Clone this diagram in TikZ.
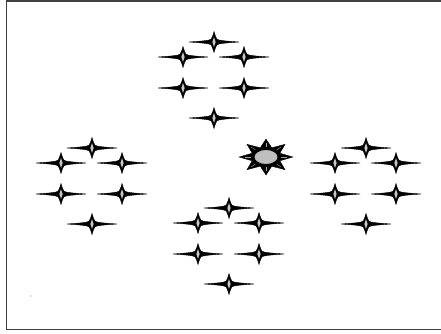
\documentclass[tikz,border=0pt]{standalone}
\usepackage{tikz}
\usetikzlibrary{calc}

\tikzset{
  sparkle/.style={fill=black, draw=black, line width=0.4pt, line join=miter},
  sparkcore/.style={fill=black!22, draw=none},
  sunray/.style={fill=black, draw=black, line width=0.3pt},
  sunface/.style={fill=black!25, draw=black, line width=0.9pt}
}

% one four-pointed star, long arms sideways
\newcommand{\sparkat}[2]{%
  \begin{scope}[shift={(#1,#2)}]
    \fill[sparkle] (-25,0) .. controls (-10,-1.1) and (-5,-1.5) .. (-3,-2.8)
      .. controls (-1.6,-5) .. (0,-10.5) .. controls (1.6,-5) .. (3,-2.8)
      .. controls (5,-1.5) and (10,-1.1) .. (25,0)
      .. controls (10,1.1) and (5,1.5) .. (3,2.8)
      .. controls (1.6,5) .. (0,10.5) .. controls (-1.6,5) .. (-3,2.8)
      .. controls (-5,1.5) and (-10,1.1) .. (-25,0) -- cycle;
    \fill[sparkcore] (-1.6,0) -- (0,-5) -- (1.6,0) -- (0,5) -- cycle;
  \end{scope}}

\begin{document}
\begin{tikzpicture}[x=1pt,y=-1pt]
  \useasboundingbox (0,0) rectangle (441,333);
  \draw[line width=1.2pt, black!75] (6.5,1) rectangle (442,329.5);

  % four groups of six stars
  \foreach \gx/\gy in {214/42, 92/148, 366/148, 229/208}{
    \sparkat{\gx}{\gy}
    \sparkat{\gx-31}{\gy+15}
    \sparkat{\gx+30}{\gy+15}
    \sparkat{\gx-31}{\gy+46}
    \sparkat{\gx+30}{\gy+46}
    \sparkat{\gx}{\gy+76}
  }

  % the sun
  \begin{scope}[shift={(266,157)}]
    \fill[sunray] (0:27 and 18)
      \foreach \a in {0,45,...,315}{
        -- ({\a+22.5}:15 and 10) -- ({\a+45}:27 and 18)
      } -- cycle;
    \foreach \a in {0,45,...,315}
      \draw[black!35, line width=0.4pt] (\a:15 and 10) -- (\a:21 and 14);
    \draw[sunface] (0,0) ellipse (12 and 7.5);
  \end{scope}

  \fill[black!45] (31,296) circle (0.7);
\end{tikzpicture}
\end{document}
